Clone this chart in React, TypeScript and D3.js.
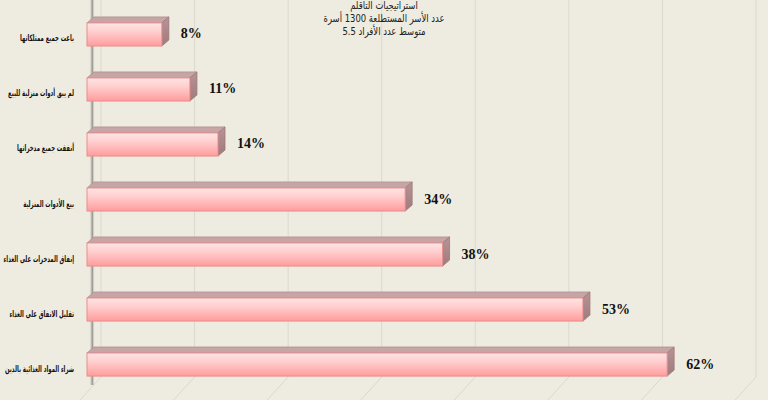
import { useEffect, useRef } from "react";
import * as d3 from "d3";

const categories = [
  "باعت جميع ممتلكاتها",
  "لم يبق أدوات منزلية للبيع",
  "أنفقت جميع مدخراتها",
  "بيع الأدوات المنزلية",
  "إنفاق المدخرات على الغذاء",
  "تقليل الانفاق على الغذاء",
  "شراء المواد الغذائية بالدين",
];
const values = [8, 11, 14, 34, 38, 53, 62];
const gridTicks = [0, 10, 20, 30, 40, 50, 60, 70];
const titleLines = [
  "استراتيجيات التاقلم",
  "عدد الأسر المستطلعة 1300 أسرة",
  "متوسط عدد الأفراد 5.5",
];

function App() {
  const svgRef = useRef<SVGSVGElement>(null);

  useEffect(() => {
    const svgElement = svgRef.current;
    if (!svgElement) return;

    const width = 768;
    const height = 400;
    const depth = { x: 7, y: -6 }; // bar depth
    const wallDx = 14; // back wall offset from bar front
    const floorY = 377;

    const svg = d3
      .select(svgElement)
      .attr("width", width)
      .attr("height", height);

    svg
      .append("rect")
      .attr("width", width)
      .attr("height", height)
      .attr("fill", "#eeece1");

    const defs = svg.append("defs");
    const front = defs
      .append("linearGradient")
      .attr("id", "frontGrad")
      .attr("x1", 0)
      .attr("y1", 0)
      .attr("x2", 0)
      .attr("y2", 1);
    front.append("stop").attr("offset", "0%").attr("stop-color", "#ffe4e4");
    front.append("stop").attr("offset", "35%").attr("stop-color", "#ffd0d0");
    front.append("stop").attr("offset", "100%").attr("stop-color", "#ff9c9c");

    const side = defs
      .append("linearGradient")
      .attr("id", "sideGrad")
      .attr("x1", 0)
      .attr("y1", 0)
      .attr("x2", 0)
      .attr("y2", 1);
    side.append("stop").attr("offset", "0%").attr("stop-color", "#b89496");
    side.append("stop").attr("offset", "100%").attr("stop-color", "#a07a7c");

    const wallGrad = defs
      .append("linearGradient")
      .attr("id", "wallGrad")
      .attr("x1", 0)
      .attr("y1", 0)
      .attr("x2", 1)
      .attr("y2", 0);
    wallGrad.append("stop").attr("offset", "0%").attr("stop-color", "#eeece1").attr("stop-opacity", 0);
    wallGrad.append("stop").attr("offset", "55%").attr("stop-color", "#6a6862").attr("stop-opacity", 0.7);
    wallGrad.append("stop").attr("offset", "100%").attr("stop-color", "#eeece1").attr("stop-opacity", 0);

    const xScale = d3.scaleLinear().domain([0, 70]).range([87, 742]);

    const yScale = d3
      .scaleBand()
      .domain(categories)
      .range([-9, 408])
      .padding(0.58);
    const bw = yScale.bandwidth();

    // Back wall grid + floor lines
    const grid = svg.append("g").attr("class", "grid");
    grid
      .selectAll("path")
      .data(gridTicks)
      .enter()
      .append("path")
      .attr("d", (d) => {
        const gx = xScale(d) + wallDx;
        return `M${gx},0 L${gx},${floorY} L${gx - 21},${floorY + 23}`;
      })
      .attr("fill", "none")
      .attr("stroke", "#dbd9ce")
      .attr("stroke-width", 1);

    // Left side wall edge
    svg
      .append("rect")
      .attr("x", 89)
      .attr("y", 0)
      .attr("width", 6)
      .attr("height", floorY + 8)
      .attr("fill", "url(#wallGrad)");

    const data = categories.map((c, i) => ({ label: c, value: values[i] }));

    const bars = svg
      .selectAll(".bar")
      .data(data)
      .enter()
      .append("g")
      .attr("class", "bar");

    // top face
    bars
      .append("path")
      .attr("d", (d) => {
        const x0 = xScale(0);
        const x1 = xScale(d.value);
        const y0 = yScale(d.label) || 0;
        return `M${x0},${y0} L${x0 + depth.x},${y0 + depth.y} L${x1 + depth.x},${y0 + depth.y} L${x1},${y0} Z`;
      })
      .attr("fill", "#c6a5a7")
      .attr("stroke", "#b48f91")
      .attr("stroke-width", 0.8);

    // side face
    bars
      .append("path")
      .attr("d", (d) => {
        const x1 = xScale(d.value);
        const y0 = yScale(d.label) || 0;
        return `M${x1},${y0} L${x1 + depth.x},${y0 + depth.y} L${x1 + depth.x},${y0 + bw + depth.y} L${x1},${y0 + bw} Z`;
      })
      .attr("fill", "url(#sideGrad)")
      .attr("stroke", "#9c7779")
      .attr("stroke-width", 0.8);

    // front face
    bars
      .append("rect")
      .attr("x", xScale(0))
      .attr("y", (d) => yScale(d.label) || 0)
      .attr("width", (d) => xScale(d.value) - xScale(0))
      .attr("height", bw)
      .attr("fill", "url(#frontGrad)")
      .attr("stroke", "#e98e8e")
      .attr("stroke-width", 1);

    // value labels
    svg
      .selectAll(".value")
      .data(data)
      .enter()
      .append("text")
      .attr("class", "value")
      .attr("x", (d) => xScale(d.value) + 19)
      .attr("y", (d) => (yScale(d.label) || 0) + bw / 2 + 4)
      .text((d) => `${d.value}%`)
      .style("font-family", "'Liberation Serif', 'Times New Roman', serif")
      .style("font-weight", "bold")
      .style("font-size", "14px")
      .style("fill", "#111");

    // category labels (compressed to match the narrow Arabic face of the original)
    const cats = svg
      .selectAll(".cat")
      .data(data)
      .enter()
      .append("text")
      .attr("class", "cat")
      .attr("y", (d) => (yScale(d.label) || 0) + bw / 2 + 7)
      .text((d) => d.label)
      .style("font-family", "'DejaVu Sans', sans-serif")
      .style("font-weight", "bold")
      .style("font-size", "9px")
      .style("fill", "#111");
    const catNodes = cats.nodes() as SVGTextElement[];
    const firstLen = catNodes[0].getComputedTextLength() || 1;
    const catFactor = 54 / firstLen;
    catNodes.forEach((node) => {
      const len = node.getComputedTextLength() * catFactor;
      d3.select(node)
        .attr("textLength", len)
        .attr("lengthAdjust", "spacingAndGlyphs")
        .attr("x", 74 - len);
    });

    // title
    const titles = svg
      .append("g")
      .selectAll("text")
      .data(titleLines)
      .enter()
      .append("text")
      .attr("y", (_d, i) => 9 + i * 13)
      .text((d) => d)
      .style("font-family", "'DejaVu Sans', sans-serif")
      .style("font-size", "11px")
      .style("fill", "#222");
    const titleNodes = titles.nodes() as SVGTextElement[];
    const midLen = titleNodes[1].getComputedTextLength() || 1;
    const titleFactor = 121 / midLen;
    titleNodes.forEach((node) => {
      const len = node.getComputedTextLength() * titleFactor;
      d3.select(node)
        .attr("textLength", len)
        .attr("lengthAdjust", "spacingAndGlyphs")
        .attr("x", 384 - len / 2);
    });

    return () => {
      d3.select(svgElement).selectAll("*").remove();
    };
  }, []);

  return (
    <svg
      ref={svgRef}
      style={{ position: "absolute", left: 0, top: 0, display: "block" }}
    ></svg>
  );
}

export default App;
